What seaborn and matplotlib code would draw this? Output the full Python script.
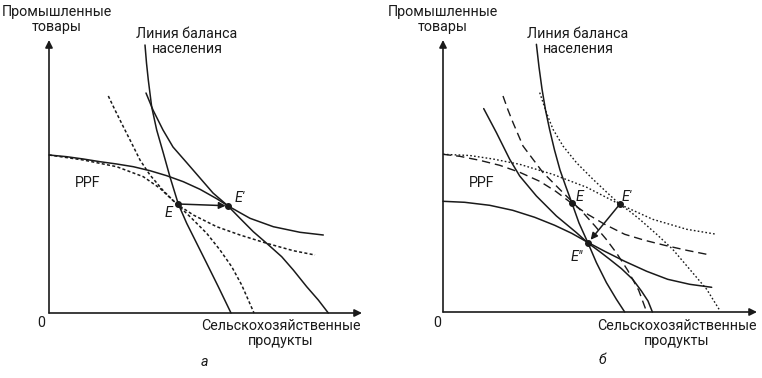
import numpy as np
import pandas as pd
import seaborn as sns
import matplotlib.pyplot as plt

# Curves (units: tenths of a pixel offset from each origin)
# Panel a
ppf_a_new_x = [0, 1.77, 3.43, 5.1, 6.77, 8.43, 10.1, 11.77, 13.43, 15.1, 16.77, 17.87,
               19.1, 20.1, 22.43, 25.1, 27.43]
ppf_a_new_y = [15.8, 15.63, 15.4, 15.13, 14.9, 14.63, 14.23, 13.73, 13.13, 12.37, 11.43, 10.73,
               10.03, 9.47, 8.63, 8.07, 7.8]
ppf_a_old_x = [0, 3.43, 6.77, 9.43, 11.1, 12.77, 14.43, 16.77, 19.1, 21.77, 24.43, 26.6]
ppf_a_old_y = [15.8, 15.3, 14.63, 13.63, 12.47, 10.9, 9.8, 8.63, 7.8, 6.97, 6.23, 5.8]
balance_a_x = [9.6, 9.75, 9.93, 10.27, 10.77, 11.43, 12.1, 12.93, 13.77, 14.77, 15.77, 16.93, 18.2]
balance_a_y = [26.8, 25.0, 23.3, 20.6, 18.3, 16.0, 13.6, 10.9, 8.97, 6.97, 4.97, 2.63, 0]
indiff_a_new_x = [9.7, 10.4, 11.4, 12.4, 13.8, 15.1, 16.4, 17.87, 19.1, 20.43,
                  21.77, 23.27, 24.43, 25.77, 26.93, 27.93]
indiff_a_new_y = [22.0, 20.3, 18.3, 16.6, 15.0, 13.5, 12.0, 10.73, 9.47, 8.13,
                  6.97, 5.63, 4.3, 2.63, 1.3, 0]
indiff_a_old_x = [5.93, 6.6, 7.43, 8.27, 9.1, 10.1, 11.43, 12.77, 14.27, 15.77, 17.1, 18.27,
                  19.27, 19.93, 20.5]
indiff_a_old_y = [21.7, 20.3, 18.63, 16.97, 15.3, 13.8, 12.23, 10.9, 9.47, 7.97, 6.3, 4.63,
                  2.8, 1.3, 0]
points_a = {"E": (12.9, 10.9), "E′": (17.87, 10.73)}

# Panel b
balance_b_x = [9.34, 9.6, 9.9, 10.25, 10.65, 11.15, 11.7, 12.3, 12.9, 13.6, 14.5, 15.34,
               16.34, 17.34, 18.17]
balance_b_y = [26.77, 24.5, 22.3, 20.2, 18.3, 16.2, 14.2, 12.5, 10.87, 8.9, 6.9, 4.94,
               2.94, 1.27, 0]
indiff_b_low_x = [4.07, 5.34, 6.67, 7.67, 9.34, 11.34, 13.34, 14.5, 15.67,
                  16.67, 17.84, 18.97, 19.84, 20.5, 20.94]
indiff_b_low_y = [20.34, 17.94, 15.27, 13.6, 11.6, 9.6, 7.94, 6.9, 6.04,
                  5.27, 4.34, 3.27, 2.1, 1.1, 0]
indiff_b_mid_x = [6.0, 6.5, 7.0, 8.0, 9.0, 10.0, 11.34, 12.67, 14.0, 15.2, 16.3,
                  17.37, 18.47, 19.57, 20.37]
indiff_b_mid_y = [21.6, 20.2, 18.94, 16.6, 15.27, 13.94, 12.6, 11.27, 9.94, 8.6, 7.3,
                  5.87, 4.17, 2.17, 0]
indiff_b_high_x = [9.67, 10.34, 11.0, 12.0, 13.34, 15.0, 16.4, 17.67, 18.67, 19.67,
                   21.37, 22.97, 24.67, 26.37, 27.67]
indiff_b_high_y = [21.94, 19.94, 18.27, 16.6, 14.94, 13.27, 11.95, 10.77, 10.07, 9.27,
                   7.77, 6.27, 4.27, 2.27, 0.17]
ppf_b_high_x = [0, 2.67, 5.0, 7.67, 10.97, 14.37, 17.67, 20.97, 24.37, 27.37]
ppf_b_high_y = [15.77, 15.65, 15.3, 14.77, 13.77, 12.47, 10.77, 9.27, 8.27, 7.77]
ppf_b_mid_x = [0, 1.67, 3.67, 5.67, 7.67, 9.67, 11.27, 12.87, 14.47, 16.17, 18.17, 20.17,
               22.17, 24.37, 26.37]
ppf_b_mid_y = [15.77, 15.57, 15.17, 14.67, 13.97, 13.07, 12.07, 10.87, 9.77, 8.77, 7.77, 7.17,
               6.67, 6.17, 5.77]
ppf_b_low_x = [0, 2.17, 4.67, 6.97, 9.17, 11.17, 12.87, 14.47, 16.17, 18.17, 20.37, 22.47,
               24.67, 26.87]
ppf_b_low_y = [11.07, 10.97, 10.67, 10.17, 9.47, 8.67, 7.87, 6.97, 6.07, 5.07, 4.07, 3.27,
               2.77, 2.47]
points_b = {"E": (12.9, 10.87), "E′": (17.67, 10.77), "E″": (14.5, 6.9)}

sns.set_style("white")
plt.rcParams["font.family"] = ["Roboto", "DejaVu Sans"]

fig = plt.figure(figsize=(7.62, 3.78), dpi=100)
W, H = 762, 378
# axes boxes: origin pixel, x-arrow end, y-arrow top
ax_a = fig.add_axes([49 / W, (H - 313) / H, 313 / W, 273 / H])
ax_b = fig.add_axes([443 / W, (H - 312) / H, 314 / W, 272 / H])
ax_a.set_xlim(0, 31.3); ax_a.set_ylim(0, 27.3)
ax_b.set_xlim(0, 31.4); ax_b.set_ylim(0, 27.2)

INK = "#1a1a1a"


def curve(ax, xs, ys, ls="-", lw=1.1):
    df = pd.DataFrame({"x": xs, "y": ys})
    sns.lineplot(data=df, x="x", y="y", ax=ax, sort=False, estimator=None,
                 color=INK, lw=lw, ls=ls)
    for l in ax.lines:
        l.set_clip_on(False)
        l.set_solid_joinstyle("round")


def frame(ax):
    for s in ax.spines.values():
        s.set_visible(False)
    ax.set_xticks([]); ax.set_yticks([])
    ax.set_xlabel(""); ax.set_ylabel("")
    ap = dict(arrowstyle="-|>", color=INK, lw=1.2, mutation_scale=11,
              shrinkA=0, shrinkB=0)
    ax.annotate("", xy=(1, 0), xytext=(0, 0), xycoords="axes fraction", arrowprops=ap)
    ax.annotate("", xy=(0, 1), xytext=(0, 0), xycoords="axes fraction", arrowprops=ap)


fs = 10.3
tkw = dict(fontsize=fs, color=INK, ha="center", clip_on=False, linespacing=1.05)
dotted_a = (0, (2, 1.5))
dashed_b = (0, (6, 3.5))
dotted_b = (0, (1.2, 1.6))

# ---- panel a
curve(ax_a, ppf_a_new_x, ppf_a_new_y)
curve(ax_a, ppf_a_old_x, ppf_a_old_y, ls=dotted_a)
curve(ax_a, balance_a_x, balance_a_y)
curve(ax_a, indiff_a_new_x, indiff_a_new_y)
curve(ax_a, indiff_a_old_x, indiff_a_old_y, ls=dotted_a)
for (px, py) in points_a.values():
    ax_a.plot(px, py, "o", color=INK, ms=4, clip_on=False)
ax_a.annotate("", xy=(points_a["E′"][0] - 0.2, points_a["E′"][1]), xytext=points_a["E"],
              arrowprops=dict(arrowstyle="-|>", color=INK, lw=1.1,
                              mutation_scale=10, shrinkA=0, shrinkB=0))
frame(ax_a)
ax_a.text(0.8, 30.8, "Промышленные\nтовары", va="top", **tkw)
ax_a.text(13.8, 28.6, "Линия баланса\nнаселения", va="top", **tkw)
ax_a.text(23.2, -0.6, "Сельскохозяйственные\nпродукты", va="top", **tkw)
ax_a.text(-0.8, -1.0, "0", va="center", **tkw)
ax_a.text(15.5, -4.9, "а", va="center", style="italic", **tkw)
ax_a.text(3.9, 13.0, "PPF", va="center", **tkw)
ax_a.text(12.0, 10.0, "E", va="center", style="italic", **tkw)
ax_a.text(19.1, 11.5, "E′", va="center", style="italic", **tkw)

# ---- panel b
curve(ax_b, balance_b_x, balance_b_y)
curve(ax_b, indiff_b_low_x, indiff_b_low_y)
curve(ax_b, ppf_b_low_x, ppf_b_low_y)
curve(ax_b, indiff_b_mid_x, indiff_b_mid_y, ls=dashed_b, lw=1.0)
curve(ax_b, ppf_b_mid_x, ppf_b_mid_y, ls=dashed_b, lw=1.0)
curve(ax_b, indiff_b_high_x, indiff_b_high_y, ls=dotted_b, lw=1.0)
curve(ax_b, ppf_b_high_x, ppf_b_high_y, ls=dotted_b, lw=1.0)
for (px, py) in points_b.values():
    ax_b.plot(px, py, "o", color=INK, ms=4, clip_on=False)
ax_b.annotate("", xy=points_b["E″"], xytext=points_b["E′"],
              arrowprops=dict(arrowstyle="-|>", color=INK, lw=1.1,
                              mutation_scale=10, shrinkA=0, shrinkB=3))
frame(ax_b)
ax_b.text(0.0, 30.7, "Промышленные\nтовары", va="top", **tkw)
ax_b.text(13.5, 28.5, "Линия баланса\nнаселения", va="top", **tkw)
ax_b.text(23.4, -0.7, "Сельскохозяйственные\nпродукты", va="top", **tkw)
ax_b.text(-0.6, -1.1, "0", va="center", **tkw)
ax_b.text(15.9, -4.8, "б", va="center", style="italic", **tkw)
ax_b.text(3.9, 12.9, "PPF", va="center", **tkw)
ax_b.text(13.7, 11.5, "E", va="center", style="italic", **tkw)
ax_b.text(18.4, 11.5, "E′", va="center", style="italic", **tkw)
ax_b.text(13.4, 5.5, "E″", va="center", style="italic", **tkw)

fig.savefig("out.png", dpi=100)
